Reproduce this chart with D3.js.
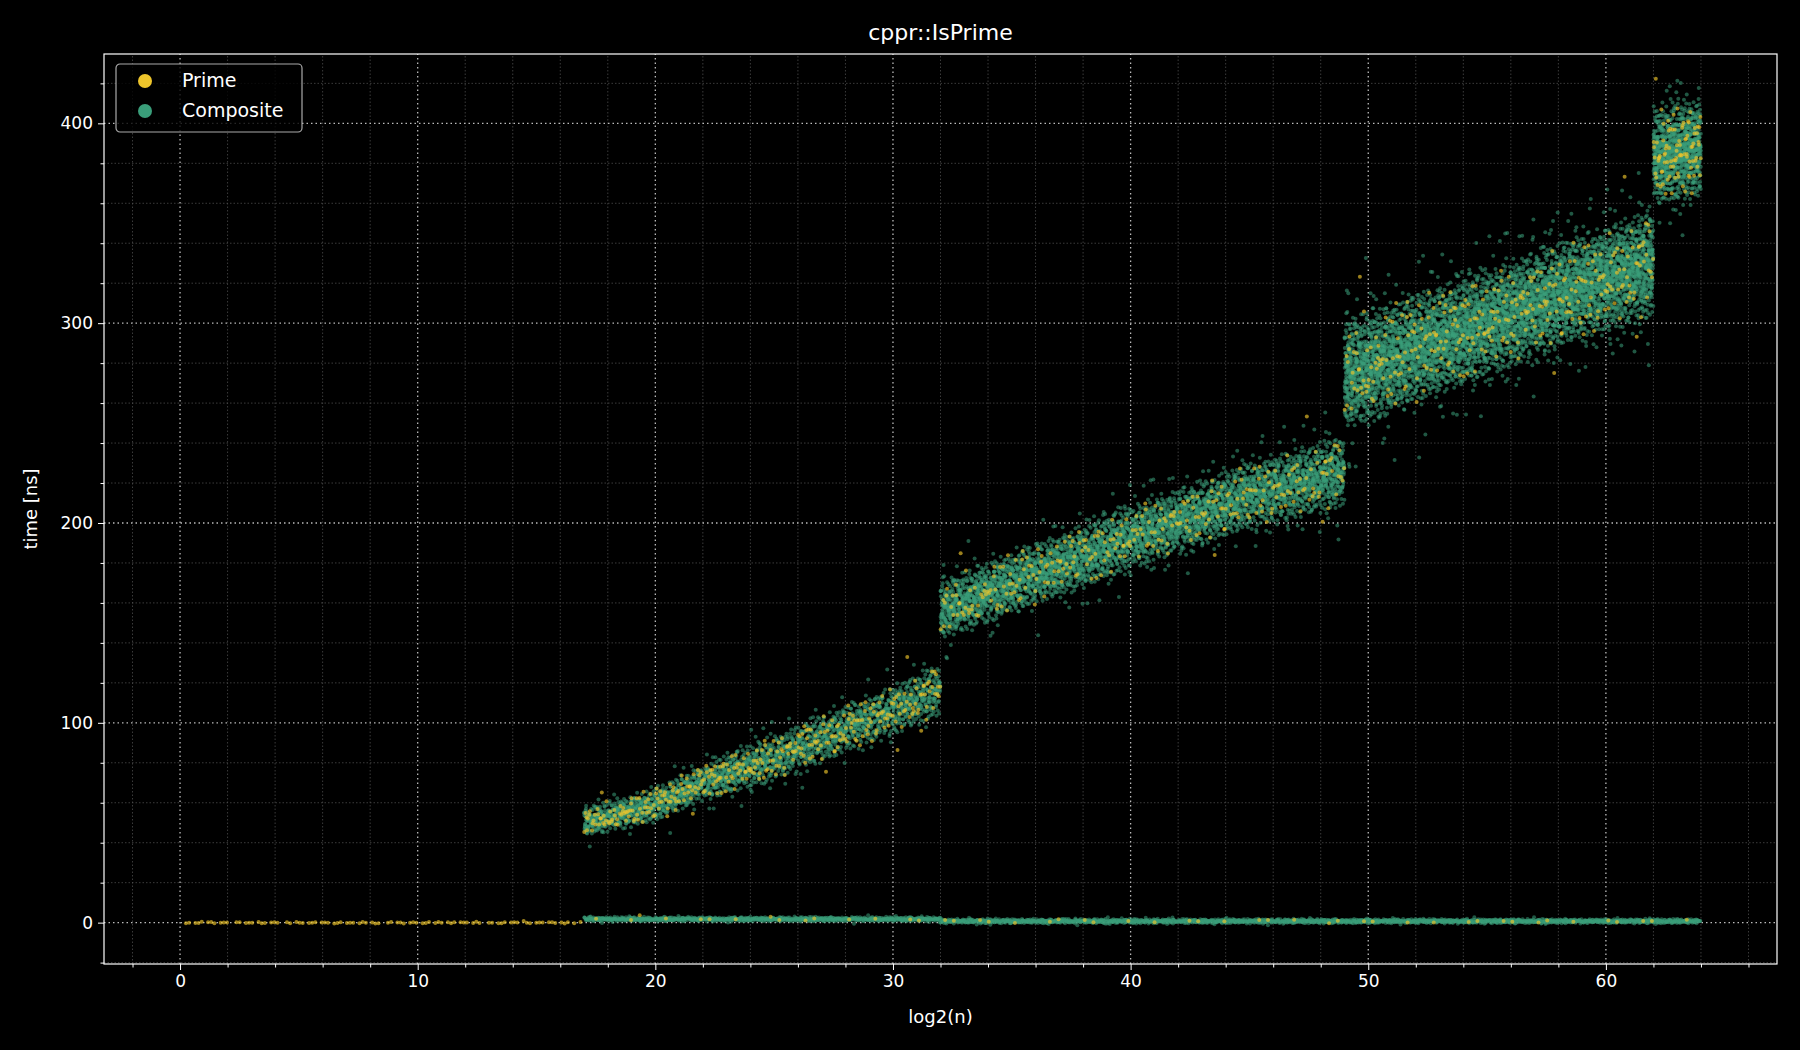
<!DOCTYPE html>
<html><head><meta charset="utf-8">
<script src="https://cdn.jsdelivr.net/npm/d3@7"></script>
<style>html,body{margin:0;background:#000;}svg{display:block;font-family:"DejaVu Sans",sans-serif;}</style>
</head><body>
<svg id="c" width="1800" height="1050"></svg>
<script>
// Band envelopes: [log2(n), lowTime, highTime]
const bandA = [[17,42,58],[20,50,68],[22,60,80],[25,70,95],[28,84,110],[30,93,120],[32,102,132]];
const bandB = [[32,140,172],[35,154,186],[38,166,200],[40,176,210],[43,188,222],[45,196,232],[49,206,246]];
const bandC = [[49,244,304],[52,258,316],[55,272,328],[58,286,342],[60,294,350],[62,300,360]];
const bandD = [[62,358,408],[64,362,415]];
const floorComposite = [[17,0.5,3],[32,0.5,3],[32,-0.5,2],[64,-0.5,2]];
const floorPrime = [[0,-0.5,0.5],[17,-0.5,0.5]];
const compositeCounts = [2200, 4200, 5600, 900, 2500];
const primeCounts = [350, 300, 320, 90, 50];
const xTicks = [0,10,20,30,40,50,60];
const yTicks = [0,100,200,300,400];
const colors = {Prime:"#eec52b", Composite:"#3a9e7a"};

const W=1800,H=1050, m={l:104,r:23,t:54,b:86};
const svg=d3.select("#c");
svg.append("rect").attr("width",W).attr("height",H).attr("fill","#000");
const x=d3.scaleLinear().domain([-3.2,67.2]).range([m.l,W-m.r]);
const y=d3.scaleLinear().domain([-20.7,434.7]).range([H-m.b,m.t]);

const g=svg.append("g");
d3.range(-2,67,2).forEach(v=>{ if(v%10) g.append("line").attr("x1",x(v)).attr("x2",x(v)).attr("y1",y.range()[0]).attr("y2",y.range()[1]).attr("stroke","#555").attr("stroke-width",0.7).attr("stroke-dasharray","1.5,2");});
d3.range(-20,435,20).forEach(v=>{ if(v%100) g.append("line").attr("y1",y(v)).attr("y2",y(v)).attr("x1",x.range()[0]).attr("x2",x.range()[1]).attr("stroke","#555").attr("stroke-width",0.7).attr("stroke-dasharray","1.5,2");});
xTicks.forEach(v=>g.append("line").attr("x1",x(v)).attr("x2",x(v)).attr("y1",y.range()[0]).attr("y2",y.range()[1]).attr("stroke","#bbb").attr("stroke-width",1.3).attr("stroke-dasharray","1.5,3"));
yTicks.forEach(v=>g.append("line").attr("y1",y(v)).attr("y2",y(v)).attr("x1",x.range()[0]).attr("x2",x.range()[1]).attr("stroke","#bbb").attr("stroke-width",1.3).attr("stroke-dasharray","1.5,3"));

function halton(i,b){let f=1,r=0;while(i>0){f/=b;r+=f*(i%b);i=Math.floor(i/b);}return r;}
function interp(band,xv){for(let k=0;k<band.length-1;k++){const a=band[k],c=band[k+1];if(xv>=a[0]&&xv<=c[0]){const t=(xv-a[0])/((c[0]-a[0])||1);return [a[1]+t*(c[1]-a[1]),a[2]+t*(c[2]-a[2])];}}return [band[0][1],band[0][2]];}
function fill(band,n,offset){const pts=[];const x0=band[0][0],x1=band[band.length-1][0];
 for(let i=1;i<=n;i++){const j=i+offset;const u=halton(j,2);const v=(halton(j,3)+halton(j,5))/2;const w=halton(j,7);
  const xv=x0+u*(x1-x0);const [lo,hi]=interp(band,xv);let yy=lo+v*(hi-lo);
  if(w>0.9){yy+= (halton(j,11)-0.5)*(hi-lo)*1.1;}
  pts.push([xv,yy]);}return pts;}
const bands=[bandA,bandB,bandC,bandD,floorComposite];
let comp=[],prime=[];
bands.forEach((b,i)=>{comp=comp.concat(fill(b,compositeCounts[i],17));prime=prime.concat(fill(b,primeCounts[i],9001));});
prime=prime.concat(fill(floorPrime,90,900));

svg.append("clipPath").attr("id","cl").append("rect").attr("x",m.l).attr("y",m.t).attr("width",W-m.l-m.r).attr("height",H-m.t-m.b);
const pl=svg.append("g").attr("clip-path","url(#cl)");
pl.selectAll(".c").data(comp).join("circle").attr("cx",d=>x(d[0])).attr("cy",d=>y(d[1])).attr("r",2).attr("fill",colors.Composite).attr("fill-opacity",0.55);
pl.selectAll(".p").data(prime).join("circle").attr("cx",d=>x(d[0])).attr("cy",d=>y(d[1])).attr("r",2).attr("fill",colors.Prime).attr("fill-opacity",0.65);

const ax=svg.append("g").attr("transform",`translate(0,${H-m.b})`).call(d3.axisBottom(x).tickValues(xTicks).tickSize(6).tickPadding(5));
const ay=svg.append("g").attr("transform",`translate(${m.l},0)`).call(d3.axisLeft(y).tickValues(yTicks).tickSize(6).tickPadding(5));
const axm=svg.append("g").attr("transform",`translate(0,${H-m.b})`).call(d3.axisBottom(x).tickValues(d3.range(-2,67,2).filter(v=>v%10)).tickSize(3.5).tickFormat(""));
const aym=svg.append("g").attr("transform",`translate(${m.l},0)`).call(d3.axisLeft(y).tickValues(d3.range(-20,435,20).filter(v=>v%100)).tickSize(3.5).tickFormat(""));
[ax,ay,axm,aym].forEach(a=>{a.select(".domain").remove();a.selectAll("line").attr("stroke","#fff");a.selectAll("text").attr("fill","#fff").style("font-size","17px").style("font-family","DejaVu Sans");});
svg.append("rect").attr("x",m.l).attr("y",m.t).attr("width",W-m.l-m.r).attr("height",H-m.t-m.b).attr("fill","none").attr("stroke","#fff").attr("stroke-width",1.2);

svg.append("text").attr("x",(m.l+W-m.r)/2).attr("y",40).attr("text-anchor","middle").attr("fill","#fff").style("font-size","22px").text("cppr::IsPrime");
svg.append("text").attr("x",(m.l+W-m.r)/2).attr("y",1023).attr("text-anchor","middle").attr("fill","#fff").style("font-size","18px").text("log2(n)");
svg.append("text").attr("transform",`translate(37,${(m.t+H-m.b)/2}) rotate(-90)`).attr("text-anchor","middle").attr("fill","#fff").style("font-size","18px").text("time [ns]");

const lg=svg.append("g").attr("transform","translate(116,64)");
lg.append("rect").attr("width",186).attr("height",68).attr("rx",4).attr("fill","#000").attr("fill-opacity",0.8).attr("stroke","#aaa").attr("stroke-width",1.2);
["Prime","Composite"].forEach((k,i)=>{lg.append("circle").attr("cx",29).attr("cy",17+i*30).attr("r",7).attr("fill",colors[k]);
 lg.append("text").attr("x",66).attr("y",23+i*30).attr("fill","#fff").style("font-size","19px").text(k);});
</script></body></html>
